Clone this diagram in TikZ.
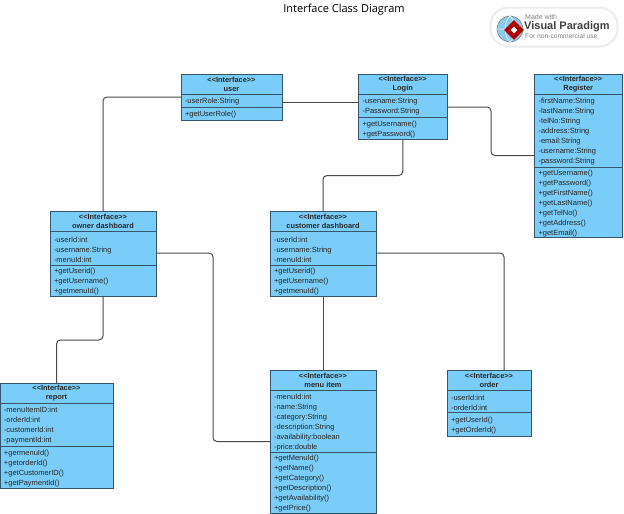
\documentclass[tikz,border=0pt]{standalone}
\usepackage{fontspec}
\setmainfont{Liberation Sans}
\newfontfamily\titlefont{Open Sans}
\usetikzlibrary{positioning,shapes.geometric}
\definecolor{boxfill}{HTML}{7ACDF8}
\definecolor{boxline}{HTML}{34566E}
\definecolor{connline}{HTML}{4A4A4A}
\definecolor{globeblue}{HTML}{8CCBEC}
\newcommand{\stereo}{{<}{<}Interface{>}{>}}
\tikzset{
  boxpart/.style={draw=boxline,fill=boxfill,line width=.9pt,anchor=north west,inner sep=0pt,outer sep=0pt,text=black!85},
  head/.style={boxpart,align=center,font=\fontsize{7.4}{9.2}\selectfont\bfseries},
  items/.style={boxpart,align=left,font=\fontsize{7.5}{10}\selectfont,text width=#1-8pt,inner xsep=4pt,execute at begin node={\leavevmode\rule{0pt}{8.5pt}}},
  conn/.style={draw=connline,line width=1pt,rounded corners=4pt},
}
\begin{document}
\begin{tikzpicture}[x=1pt,y=-1pt,node distance=0pt]
\useasboundingbox (0,0) rectangle (624,514);
\node[font=\titlefont\fontsize{11}{13}\selectfont] (title) at (344,10) {Interface Class Diagram};
% logo
\node[draw=black!7,fill=white,line width=2pt,rounded corners=18pt,minimum width=127pt,minimum height=39pt] (logo) at (554,27) {};
\node[circle,draw=black!50,fill=globeblue,line width=.6pt,minimum size=26pt,inner sep=0pt] (globe) at (510,29) {};
\draw[white,line width=.5pt] (globe.north) to[bend left=40] (globe.south) (globe.north) to[bend right=40] (globe.south) (globe.west) -- (globe.east);
\node[diamond,fill=red!70!black,minimum size=20pt,inner sep=0pt,aspect=1] (gem) at (514,30) {};
\node[diamond,fill=white,minimum size=7pt,inner sep=0pt,aspect=1] (gemcore) at (gem) {};
\node[anchor=west,font=\fontsize{7}{8}\selectfont,text=black!50,inner sep=0pt] (made) at (525,17) {Made with};
\node[anchor=west,font=\fontsize{11}{12}\selectfont\bfseries,text=black!75,inner sep=0pt] (vp) at (524,26.5) {Visual Paradigm};
\node[anchor=west,font=\fontsize{6.7}{8}\selectfont,text=black!50,inner sep=0pt] (use) at (525,36.5) {For non-commercial use};
% user
\node[head,minimum width=101pt,minimum height=20pt] (user) at (181,74) {\stereo\\user};
\node[items=101pt,minimum height=13pt,below=of user.south west,anchor=north west] (userattr) {-userRole:String};
\node[items=101pt,minimum height=13pt,below=of userattr.south west,anchor=north west] (userops) {+getUserRole()};
% Login
\node[head,minimum width=88.5pt,minimum height=20pt] (login) at (358.5,74) {\stereo\\Login};
\node[items=88.5pt,minimum height=23pt,below=of login.south west,anchor=north west] (loginattr) {-usename:String\\-Password:String};
\node[items=88.5pt,minimum height=22.5pt,below=of loginattr.south west,anchor=north west] (loginops) {+getUsername()\\+getPassword()};
% Register
\node[head,minimum width=87.5pt,minimum height=20pt] (register) at (534.5,74) {\stereo\\Register};
\node[items=87.5pt,minimum height=73pt,below=of register.south west,anchor=north west] (registerattr) {-firstName:String\\-lastName:String\\-telNo:String\\-address:String\\-email:String\\-username:String\\-password:String};
\node[items=87.5pt,minimum height=70pt,below=of registerattr.south west,anchor=north west] (registerops) {+getUsername()\\+getPassword()\\+getFirstName()\\+getLastName()\\+getTelNo()\\+getAddress()\\+getEmail()};
% owner dashboard
\node[head,minimum width=106pt,minimum height=20pt] (owner) at (50,211) {\stereo\\owner dashboard};
\node[items=106pt,minimum height=34pt,below=of owner.south west,anchor=north west] (ownerattr) {-userId:int\\-username:String\\-menuId:int};
\node[items=106pt,minimum height=31pt,below=of ownerattr.south west,anchor=north west] (ownerops) {+getUserid()\\+getUsername()\\+getmenuId()};
% customer dashboard
\node[head,minimum width=106pt,minimum height=20pt] (customer) at (270,211) {\stereo\\customer dashboard};
\node[items=106pt,minimum height=34pt,below=of customer.south west,anchor=north west] (customerattr) {-userId:int\\-username:String\\-menuId:int};
\node[items=106pt,minimum height=31pt,below=of customerattr.south west,anchor=north west] (customerops) {+getUserid()\\+getUsername()\\+getmenuId()};
% report
\node[head,minimum width=113pt,minimum height=20pt] (report) at (0,383) {\stereo\\report};
\node[items=113pt,minimum height=43pt,below=of report.south west,anchor=north west] (reportattr) {-menuItemID:int\\-orderId:int\\-customerId:int\\-paymentId:int};
\node[items=113pt,minimum height=42pt,below=of reportattr.south west,anchor=north west] (reportops) {+germenuId()\\+getorderId()\\+getCustomerID()\\+getPaymentId()};
% menu item
\node[head,minimum width=106pt,minimum height=20pt] (menu) at (270,370) {\stereo\\menu item};
\node[items=106pt,minimum height=62pt,below=of menu.south west,anchor=north west] (menuattr) {-menuId:int\\-name:String\\-category:String\\-description:String\\-availability:boolean\\-price:double};
\node[items=106pt,minimum height=61pt,below=of menuattr.south west,anchor=north west] (menuops) {+getMenuId()\\+getName()\\+getCategory()\\+getDescription()\\+getAvailability()\\+getPrice()};
% order
\node[head,minimum width=84pt,minimum height=20pt] (order) at (447,370) {\stereo\\order};
\node[items=84pt,minimum height=22.5pt,below=of order.south west,anchor=north west] (orderattr) {-userId:int\\-orderId:int};
\node[items=84pt,minimum height=23.5pt,below=of orderattr.south west,anchor=north west] (orderops) {+getUserId()\\+getOrderId()};
% connectors
\draw[conn] ([yshift=3.5pt]userattr.west) -| (owner.north);
\draw[conn] ([yshift=-1.5pt]userattr.east) -- ([yshift=-1.5pt]userattr.east -| loginattr.west);
\draw[conn] ([yshift=-1.5pt]loginattr.east) -- ++(44,0) |- ([yshift=-25pt]registerattr.west);
\draw[conn] (loginops.south) -- ++(0,36) -| (customer.north);
\draw[conn] ([yshift=-5pt]ownerattr.east) -- ++(57,0) |- ([yshift=-20.5pt]menuattr.west);
\draw[conn] (ownerops.south) -- ++(0,44) -| (report.north);
\draw[conn] (customerops.south) -- (menu.north);
\draw[conn] ([yshift=-5pt]customerattr.east) -| ([xshift=15pt]order.north);
\end{tikzpicture}
\end{document}
